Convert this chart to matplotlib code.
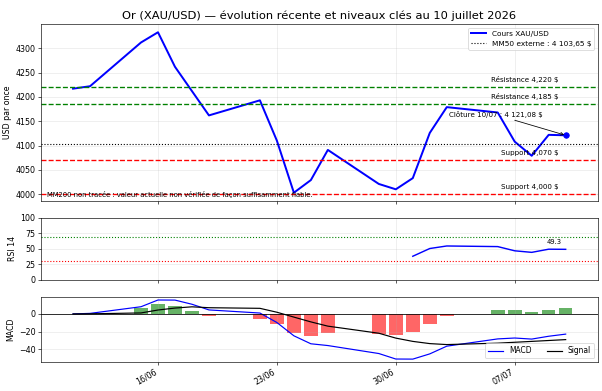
import numpy as np
import pandas as pd
import matplotlib
matplotlib.use("Agg")
import matplotlib.pyplot as plt
import matplotlib.dates as mdates

# cours de cloture
price_dates = pd.to_datetime(["2026-06-11", "2026-06-12", "2026-06-15", "2026-06-16", "2026-06-17",
                              "2026-06-19", "2026-06-22", "2026-06-23", "2026-06-24", "2026-06-25",
                              "2026-06-26", "2026-06-29", "2026-06-30", "2026-07-01", "2026-07-02",
                              "2026-07-03", "2026-07-06", "2026-07-07", "2026-07-08", "2026-07-09",
                              "2026-07-10"])
price = [4217, 4222, 4312, 4333, 4262, 4162, 4193, 4110, 4003, 4029, 4091,
         4021, 4010, 4033, 4126, 4179, 4168, 4108, 4079, 4122, 4121.08]

ind_dates = pd.to_datetime(["2026-06-11", "2026-06-12", "2026-06-15", "2026-06-16", "2026-06-17",
                            "2026-06-18", "2026-06-19", "2026-06-22", "2026-06-23", "2026-06-24",
                            "2026-06-25", "2026-06-26", "2026-06-29", "2026-06-30", "2026-07-01",
                            "2026-07-02", "2026-07-03", "2026-07-06", "2026-07-07", "2026-07-08",
                            "2026-07-09", "2026-07-10"])
macd = [0, 0.6, 8.1, 15.7, 15.6, 10.9, 4.5, 1.0, -9.7, -24.7, -33.7, -35.7,
        -44.7, -50.9, -51.0, -45.1, -36.4, -28.2, -27.2, -28.4, -25.2, -22.8]
signal = [0, 0.1, 1.1, 4.4, 6.6, 8.0, 7.0, 6.3, 1.9, -3.6, -9.0, -13.8,
          -21.8, -27.3, -31.0, -33.5, -34.6, -33.0, -32.0, -31.0, -30.0, -29.0]

rsi_dates = ind_dates[-8:]
rsi = [38.1, 50.6, 54.7, 53.7, 46.9, 44.4, 49.5, 49.3]

resistances = [4220, 4185]
supports = [4070, 4000]
mm50 = 4103.65

fig = plt.figure(figsize=(602 / 57, 391 / 57), dpi=57)
gs = fig.add_gridspec(3, 1, height_ratios=[2.85, 1, 1.05], hspace=0.17,
                      left=0.068, right=0.993, top=0.938, bottom=0.074)
ax1 = fig.add_subplot(gs[0])
ax2 = fig.add_subplot(gs[1], sharex=ax1)
ax3 = fig.add_subplot(gs[2], sharex=ax1)

# --- prix
ax1.plot(price_dates, price, color="blue", lw=2.5, label="Cours XAU/USD")
ax1.plot(price_dates[-1], price[-1], "o", color="blue", ms=7)
ax1.axhline(mm50, color="black", ls=":", lw=1.4, label="MM50 externe : 4 103,65 $")
for r in resistances:
    ax1.axhline(r, color="green", ls="--", lw=1.7)
    ax1.annotate(f"Résistance {r:,} $", (price_dates[-1], r), xytext=(-9, 5),
                 textcoords="offset points", ha="right", va="bottom", fontsize=9)
for s in supports:
    ax1.axhline(s, color="red", ls="--", lw=1.7)
    ax1.annotate(f"Support {s:,} $", (price_dates[-1], s), xytext=(-9, 5),
                 textcoords="offset points", ha="right", va="bottom", fontsize=9)
ax1.annotate("Clôture 10/07 : 4 121,08 $", (price_dates[-1], price[-1]), xytext=(-88, 26),
             textcoords="offset points", ha="center", va="center", fontsize=9,
             arrowprops=dict(arrowstyle="->", color="black", lw=1))
ax1.text(0.01, 0.02, "MM200 non tracée : valeur actuelle non vérifiée de façon suffisamment fiable.",
         transform=ax1.transAxes, fontsize=8.6)
ax1.set_ylabel("USD par once")
ax1.set_title("Or (XAU/USD) — évolution récente et niveaux clés au 10 juillet 2026", fontsize=14.5)
ax1.legend(loc="upper right", fontsize=9.3)
ax1.grid(alpha=0.3)

# --- RSI
ax2.plot(rsi_dates, rsi, color="blue", lw=1.8)
ax2.axhline(70, color="green", ls=":", lw=1.4)
ax2.axhline(30, color="red", ls=":", lw=1.4)
ax2.annotate(f"{rsi[-1]:.1f}", (rsi_dates[-1], rsi[-1]), xytext=(-15, 5),
             textcoords="offset points", ha="center", va="bottom", fontsize=8.5)
ax2.set_ylim(0, 100)
ax2.set_yticks([0, 25, 50, 75, 100])
ax2.set_ylabel("RSI 14")
ax2.grid(alpha=0.3)

# --- MACD
hist = np.array(macd) - np.array(signal)
colors = ["green" if h >= 0 else "red" for h in hist]
ax3.bar(ind_dates, hist, color=colors, alpha=0.6, width=0.8)
ax3.plot(ind_dates, macd, color="blue", lw=1.5, label="MACD")
ax3.plot(ind_dates, signal, color="black", lw=1.5, label="Signal")
ax3.axhline(0, color="black", lw=1)
ax3.set_ylabel("MACD")
ax3.legend(loc="lower right", ncol=2, fontsize=9.5)
ax3.grid(alpha=0.3)

ax3.xaxis.set_major_locator(mdates.WeekdayLocator(byweekday=mdates.TU))
ax3.xaxis.set_major_formatter(mdates.DateFormatter("%d/%m"))
plt.setp(ax1.get_xticklabels(), visible=False)
plt.setp(ax2.get_xticklabels(), visible=False)
plt.setp(ax3.get_xticklabels(), rotation=30, ha="right")

fig.savefig("out.png", dpi=57)
